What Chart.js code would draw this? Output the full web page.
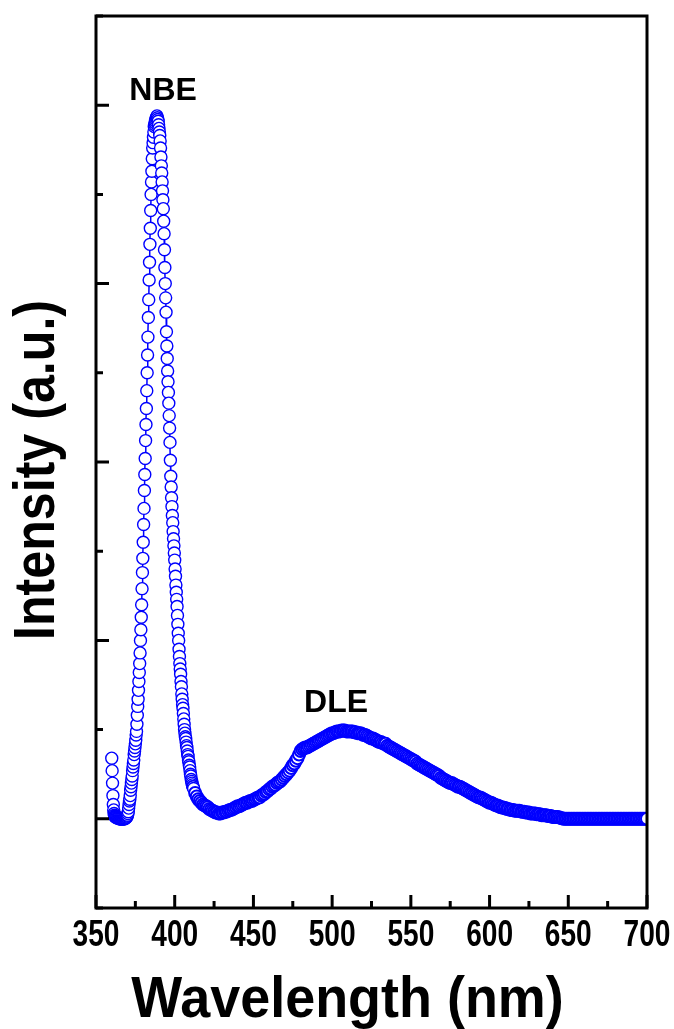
<!DOCTYPE html>
<html>
<head>
<meta charset="utf-8">
<title>PL spectrum</title>
<script src="https://cdn.jsdelivr.net/npm/chart.js@4.4.1/dist/chart.umd.min.js"></script>
<style>
  html, body { margin: 0; padding: 0; background: #fff; }
  #graf { display: block; }
</style>
</head>
<body>
<canvas id="graf" width="674" height="1029"></canvas>
<script>
"use strict";

// wavelength grid (nm): fine steps over the UV edge and NBE peak, 1 nm steps after
const fineStart = 360, fineStep = 0.25;
const coarseStart = 413, coarseStep = 1;

// intensity (a.u.), 360.00 ... 412.00 nm, 8 values per 2 nm
const fineIntensity = [
  0.34, 0.27, 0.20, 0.13, 0.08, 0.05, 0.03, 0.02,
  0.015, 0.01, 0.01, 0.01, 0.01, 0.01, 0.005, 0.005,
  0.005, 0.005, 0.005, 0, 0, 0, 0, 0,
  0, 0, 0, 0, 0, 0, 0, 0,
  0, 0, 0.005, 0.005, 0.005, 0.01, 0.01, 0.015,
  0.02, 0.03, 0.04, 0.06, 0.08, 0.10, 0.11, 0.13,
  0.16, 0.18, 0.20, 0.22, 0.24, 0.27, 0.29, 0.31,
  0.33, 0.36, 0.38, 0.40, 0.42, 0.44, 0.47, 0.49,
  0.53, 0.58, 0.63, 0.67, 0.72, 0.77, 0.82, 0.87,
  0.93, 1.00, 1.06, 1.13, 1.20, 1.29, 1.38, 1.46,
  1.55, 1.65, 1.74, 1.84, 1.93, 2.02, 2.12, 2.21,
  2.30, 2.40, 2.50, 2.60, 2.70, 2.81, 2.91, 3.02,
  3.12, 3.22, 3.31, 3.41, 3.50, 3.57, 3.63, 3.70,
  3.76, 3.79, 3.82, 3.85, 3.88, 3.89, 3.90, 3.91,
  3.92, 3.93, 3.93, 3.94, 3.93, 3.92, 3.91, 3.89,
  3.87, 3.85, 3.83, 3.80, 3.76, 3.71, 3.66, 3.62,
  3.57, 3.52, 3.47, 3.42, 3.35, 3.28, 3.19, 3.09,
  3.00, 2.92, 2.84, 2.73, 2.65, 2.58, 2.51, 2.45,
  2.39, 2.33, 2.26, 2.19, 2.11, 2.01, 1.92, 1.86,
  1.80, 1.75, 1.70, 1.66, 1.61, 1.57, 1.53, 1.49,
  1.45, 1.40, 1.36, 1.31, 1.27, 1.23, 1.19, 1.14,
  1.09, 1.04, 1.00, 0.95, 0.91, 0.87, 0.84, 0.81,
  0.77, 0.74, 0.70, 0.67, 0.64, 0.62, 0.59, 0.56,
  0.53, 0.50, 0.48, 0.46, 0.45, 0.43, 0.41, 0.40,
  0.38, 0.36, 0.35, 0.33, 0.32, 0.30, 0.29, 0.27,
  0.25, 0.24, 0.22, 0.21, 0.20, 0.19, 0.18, 0.18,
  0.17
];

// intensity (a.u.), 413 ... 700 nm, 10 values per row
const coarseIntensity = [
  0.145, 0.125, 0.11, 0.10, 0.09, 0.08, 0.075, 0.07, 0.065, 0.055,
  0.05, 0.045, 0.04, 0.035, 0.035, 0.03, 0.03, 0.035, 0.035, 0.04,
  0.04, 0.045, 0.05, 0.05, 0.055, 0.06, 0.065, 0.07, 0.07, 0.075,
  0.08, 0.085, 0.09, 0.09, 0.095, 0.10, 0.10, 0.105, 0.11, 0.115,
  0.12, 0.12, 0.13, 0.135, 0.14, 0.15, 0.155, 0.165, 0.17, 0.18,
  0.185, 0.19, 0.20, 0.205, 0.21, 0.22, 0.23, 0.24, 0.25, 0.26,
  0.27, 0.285, 0.30, 0.31, 0.325, 0.34, 0.36, 0.38, 0.39, 0.395,
  0.40, 0.40, 0.405, 0.41, 0.415, 0.42, 0.425, 0.43, 0.435, 0.44,
  0.445, 0.45, 0.455, 0.46, 0.465, 0.47, 0.475, 0.48, 0.48, 0.485,
  0.49, 0.49, 0.49, 0.495, 0.495, 0.495, 0.49, 0.49, 0.49, 0.49,
  0.49, 0.485, 0.485, 0.48, 0.48, 0.48, 0.475, 0.47, 0.47, 0.465,
  0.46, 0.455, 0.45, 0.45, 0.445, 0.44, 0.435, 0.43, 0.43, 0.425,
  0.42, 0.42, 0.41, 0.405, 0.40, 0.395, 0.39, 0.385, 0.38, 0.375,
  0.37, 0.365, 0.36, 0.355, 0.35, 0.345, 0.34, 0.335, 0.33, 0.325,
  0.32, 0.31, 0.305, 0.30, 0.295, 0.29, 0.285, 0.28, 0.275, 0.27,
  0.265, 0.26, 0.255, 0.25, 0.245, 0.24, 0.23, 0.225, 0.22, 0.215,
  0.21, 0.205, 0.20, 0.20, 0.195, 0.19, 0.185, 0.18, 0.18, 0.175,
  0.17, 0.165, 0.16, 0.155, 0.15, 0.145, 0.14, 0.135, 0.13, 0.125,
  0.12, 0.12, 0.115, 0.11, 0.105, 0.10, 0.095, 0.09, 0.09, 0.085,
  0.08, 0.075, 0.075, 0.07, 0.065, 0.065, 0.06, 0.06, 0.055, 0.055,
  0.05, 0.05, 0.05, 0.045, 0.045, 0.045, 0.045, 0.04, 0.04, 0.04,
  0.035, 0.035, 0.035, 0.03, 0.03, 0.03, 0.03, 0.025, 0.025, 0.025,
  0.02, 0.02, 0.02, 0.02, 0.015, 0.015, 0.015, 0.01, 0.01, 0.01,
  0.01, 0.008, 0.005, 0.003, 0, 0, 0, 0, 0, 0,
  0, 0, 0, 0, 0, 0, 0, 0, 0, 0,
  0, 0, 0, 0, 0, 0, 0, 0, 0, 0,
  0, 0, 0, 0, 0, 0, 0, 0, 0, 0,
  0, 0, 0, 0, 0, 0, 0, 0, 0, 0,
  0, 0, 0, 0, 0, 0, 0, 0
];

// axes
const xMin = 350, xMax = 700, xStep = 25, xLabelEvery = 50;
const yMin = -0.5, yMax = 4.5, yStep = 0.5;
const xTitle = "Wavelength (nm)";
const yTitle = "Intensity (a.u.)";

// peak names, placed in data units
const peakNames = ["NBE", "DLE"];
const peakNameX = [392.6, 502.5];
const peakNameY = [4.08, 0.65];

const blaa = "#0000ff";
const fontNavn = "'Liberation Sans', Arial, sans-serif";

const punkter = [];
fineIntensity.forEach((v, i) => punkter.push({ x: fineStart + i * fineStep, y: v }));
coarseIntensity.forEach((v, i) => punkter.push({ x: coarseStart + i * coarseStep, y: v }));

// the figure uses a condensed bold face for axis text; squeeze it horizontally
function smalTekst(ctx, tekst, x, y, klem, vinkel) {
  ctx.save();
  ctx.translate(x, y);
  if (vinkel) ctx.rotate(vinkel);
  ctx.scale(klem, 1);
  ctx.fillText(tekst, 0, 0);
  ctx.restore();
}

const rammeOgTekst = {
  id: "rammeOgTekst",
  afterDatasetsDraw(chart) {
    const { ctx, chartArea: a, scales: { x, y } } = chart;
    ctx.save();

    // frame + inward ticks
    ctx.strokeStyle = "#000";
    ctx.lineWidth = 3;
    ctx.strokeRect(a.left, a.top, a.right - a.left, a.bottom - a.top);
    ctx.beginPath();
    x.ticks.forEach(t => {
      const px = x.getPixelForValue(t.value);
      const len = t.value % xLabelEvery === 0 ? 13 : 7;
      ctx.moveTo(px, a.bottom);
      ctx.lineTo(px, a.bottom - len);
    });
    y.ticks.forEach(t => {
      const py = y.getPixelForValue(t.value);
      const len = Number.isInteger(t.value) ? 13 : 7;
      ctx.moveTo(a.left, py);
      ctx.lineTo(a.left + len, py);
    });
    ctx.stroke();

    ctx.fillStyle = "#000";
    ctx.textAlign = "center";
    ctx.textBaseline = "middle";

    // x tick labels
    ctx.font = "bold 36px " + fontNavn;
    x.ticks.forEach(t => {
      if (t.value % xLabelEvery !== 0) return;
      smalTekst(ctx, String(t.value), x.getPixelForValue(t.value), a.bottom + 28, 0.78);
    });

    // peak names
    ctx.font = "bold 32px " + fontNavn;
    peakNames.forEach((navn, i) => {
      ctx.fillText(navn, x.getPixelForValue(peakNameX[i]), y.getPixelForValue(peakNameY[i]));
    });

    // axis titles
    ctx.font = "bold 58px " + fontNavn;
    smalTekst(ctx, xTitle, (a.left + a.right) / 2 - 24, a.bottom + 93, 0.93);
    smalTekst(ctx, yTitle, 38, (a.top + a.bottom) / 2 + 8, 0.865, -Math.PI / 2);

    ctx.restore();
  }
};

new Chart(document.getElementById("graf").getContext("2d"), {
  type: "scatter",
  data: {
    datasets: [{
      data: punkter,
      showLine: true,
      borderColor: blaa,
      borderWidth: 1.5,
      pointRadius: 6,
      pointBorderWidth: c => (c.raw && c.raw.x >= coarseStart ? 2 : 1.4),
      pointBorderColor: blaa,
      pointBackgroundColor: "#fff",
      clip: 0
    }]
  },
  options: {
    responsive: false,
    animation: false,
    events: [],
    layout: { padding: { top: 16, right: 27, left: 0, bottom: 0 } },
    plugins: { legend: { display: false }, tooltip: { enabled: false } },
    scales: {
      x: {
        type: "linear",
        min: xMin,
        max: xMax,
        grid: { display: false, drawTicks: false },
        border: { display: false },
        ticks: { stepSize: xStep, autoSkip: false, display: false },
        afterFit: s => { s.height = 121; }
      },
      y: {
        min: yMin,
        max: yMax,
        grid: { display: false, drawTicks: false },
        border: { display: false },
        ticks: { stepSize: yStep, display: false },
        afterFit: s => { s.width = 96; }
      }
    }
  },
  plugins: [rammeOgTekst]
});
</script>
</body>
</html>
